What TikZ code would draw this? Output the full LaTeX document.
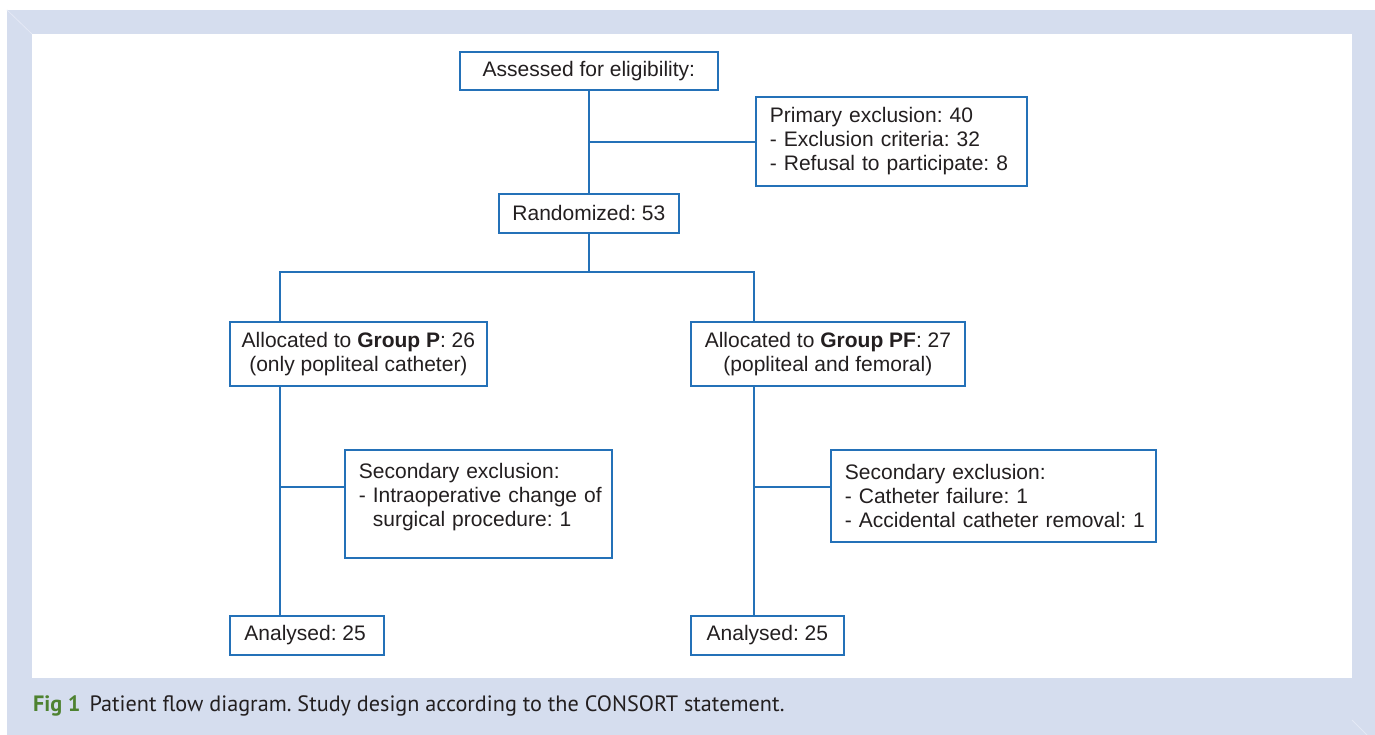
\documentclass[tikz,border=0pt]{standalone}
\usepackage{fontspec}
\setmainfont{Liberation Sans}
\newfontfamily\capfont{PT Sans}
\frenchspacing
\definecolor{bgblue}{RGB}{213,221,238}
\definecolor{bevel}{RGB}{228,233,245}
\definecolor{lineblue}{RGB}{36,113,184}
\definecolor{txt}{RGB}{35,31,32}
\definecolor{figgreen}{RGB}{78,130,48}
\tikzset{
  box/.style={draw=lineblue, line width=1.8pt, fill=white, anchor=north west,
    inner sep=0pt, text=txt, font=\fontsize{21}{24}\selectfont\frenchspacing},
  cbox/.style={box, align=center},
  lbox/.style={box, align=left, inner xsep=14pt},
  link/.style={draw=lineblue, line width=1.5pt}
}
\begin{document}
\begin{tikzpicture}[x=1pt,y=-1pt]
\useasboundingbox (0,0) rectangle (1375,735);
\fill[white] (0,0) rectangle (1375,735);
\fill[bgblue] (7,10) rectangle (1375,735);
\draw[bevel, line width=0.8pt] (7,10) -- (32,34);
\draw[bevel, line width=0.8pt] (1352,720) -- (1367,735);
\fill[white] (32,34) rectangle (1352,678);

% nodes
\node[cbox, minimum width=258, minimum height=38] (assess) at (459,51) {Assessed for eligibility:};
\node[lbox, text width=243, minimum height=89] (primary) at (755,96)
  {\mbox{Primary exclusion: 40}\\\mbox{- Exclusion criteria: 32}\\\mbox{- Refusal to participate: 8}};
\node[cbox, minimum width=180, minimum height=39] (random) at (498,193) {Randomized: 53};
\node[cbox, minimum width=257, minimum height=64] (allocP) at (229,321)
  {Allocated to \textbf{Group P}: 26\\(only popliteal catheter)};
\node[cbox, minimum width=274, minimum height=64] (allocPF) at (690,321)
  {Allocated to \textbf{Group PF}: 27\\(popliteal and femoral)};
\node[lbox, text width=239, minimum height=108, text depth=67pt] (secP) at (344,449)
  {\mbox{Secondary exclusion:}\\\mbox{- Intraoperative change of}\\\mbox{\phantom{- }surgical procedure: 1}};
\node[lbox, text width=297, minimum height=92] (secPF) at (830,449)
  {\mbox{Secondary exclusion:}\\\mbox{- Catheter failure: 1}\\\mbox{- Accidental catheter removal: 1}};
\node[cbox, minimum width=154, minimum height=39] (anP) at (229,615) {Analysed: 25\,};
\node[cbox, minimum width=153, minimum height=39] (anPF) at (690,615) {Analysed: 25};

% connector points
\coordinate (split) at ([yshift=-38pt]random.south);
\coordinate (pTop) at ([xshift=51pt]allocP.north west);
\coordinate (pBot) at ([xshift=51pt]allocP.south west);
\coordinate (pfTop) at ([xshift=64pt]allocPF.north west);
\coordinate (pfBot) at ([xshift=64pt]allocPF.south west);
\coordinate (anPTop) at ([xshift=51pt]anP.north west);
\coordinate (anPFTop) at ([xshift=64pt]anPF.north west);
\coordinate (secPIn) at ([yshift=-38pt]secP.north west);
\coordinate (secPFIn) at ([yshift=-38pt]secPF.north west);
\coordinate (primIn) at ([yshift=-46pt]primary.north west);

% connectors
\draw[link] (assess.south) -- (random.north);
\draw[link] (assess.south |- primIn) -- (primIn);
\draw[link] (random.south) -- (split);
\draw[link] (pTop) -- (pTop |- split) -- (pfTop |- split) -- (pfTop);
\draw[link] (pBot) -- (anPTop);
\draw[link] (pfBot) -- (anPFTop);
\draw[link] (pBot |- secPIn) -- (secPIn);
\draw[link] (pfBot |- secPFIn) -- (secPFIn);

% caption
\node[anchor=base west, inner sep=0pt, text=txt, font=\capfont\fontsize{22.2}{24}\selectfont] (caption) at (33,711)
  {\textcolor{figgreen}{\textbf{Fig 1}}\hspace{9pt}Patient flow diagram. Study design according to the CONSORT statement.};
\end{tikzpicture}
\end{document}
